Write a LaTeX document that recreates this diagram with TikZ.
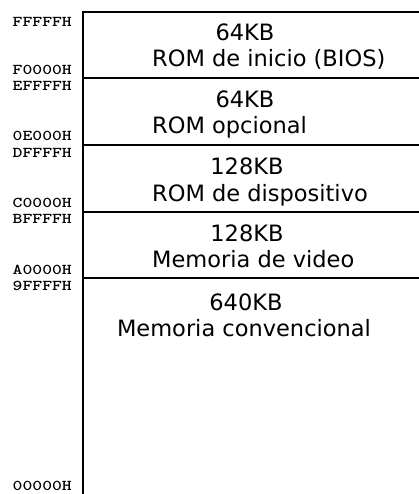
\documentclass[tikz,border=0pt]{standalone}
\usepackage{fontspec}
\newfontfamily\boxfont{DejaVu Sans}
\begin{document}
\begin{tikzpicture}[x=1pt,y=-1pt,
  lbl/.style={font=\boxfont\fontsize{22.5}{26}\selectfont, inner sep=0pt, anchor=base},
  lblw/.style={lbl, anchor=base west},
  addr/.style={font=\ttfamily\bfseries\fontsize{15}{16}\selectfont, inner sep=0pt, anchor=east},
  rule/.style={line width=1.4pt, line cap=rect}]
\useasboundingbox (0,0) rectangle (419,494);
\newcommand{\addrtxt}[1]{\scalebox{1.25}[1]{#1}}
% frame coordinates
\coordinate (b0) at (83,494);
\coordinate (t0) at (83,12);   \coordinate (t1) at (419,12);
\coordinate (l1) at (83,78);   \coordinate (r1) at (419,78);
\coordinate (l2) at (83,145);  \coordinate (r2) at (419,145);
\coordinate (l3) at (83,212);  \coordinate (r3) at (419,212);
\coordinate (l4) at (83,278);  \coordinate (r4) at (419,278);
\draw[rule] (b0) -- (t0) -- (t1);
\draw[rule] (l1) -- (r1);
\draw[rule] (l2) -- (r2);
\draw[rule] (l3) -- (r3);
\draw[rule] (l4) -- (r4);
% addresses
\node[addr] (a1) at (72,22)  {\addrtxt{FFFFFH}};
\node[addr] (a2) at (72,70)  {\addrtxt{F0000H}};
\node[addr] (a3) at (72,86)  {\addrtxt{EFFFFH}};
\node[addr] (a4) at (72,136) {\addrtxt{0E000H}};
\node[addr] (a5) at (72,153) {\addrtxt{DFFFFH}};
\node[addr] (a6) at (72,203) {\addrtxt{C0000H}};
\node[addr] (a7) at (72,219) {\addrtxt{BFFFFH}};
\node[addr] (a8) at (72,270) {\addrtxt{A0000H}};
\node[addr] (a9) at (72,286) {\addrtxt{9FFFFH}};
\node[addr] (a10) at (72,486) {\addrtxt{00000H}};
% region labels
\node[lbl]  (s1) at (245,41)  {64KB};
\node[lblw] (n1) at (152,67)  {ROM de inicio (BIOS)};
\node[lbl]  (s2) at (245,108) {64KB};
\node[lblw] (n2) at (152,134) {ROM opcional};
\node[lbl]  (s3) at (247,175) {128KB};
\node[lblw] (n3) at (152,201) {ROM de dispositivo};
\node[lbl]  (s4) at (247,241) {128KB};
\node[lblw] (n4) at (152,267) {Memoria de video};
\node[lbl]  (s5) at (246,310) {640KB};
\node[lbl]  (n5) at (244,336) {Memoria convencional};
\end{tikzpicture}
\end{document}
